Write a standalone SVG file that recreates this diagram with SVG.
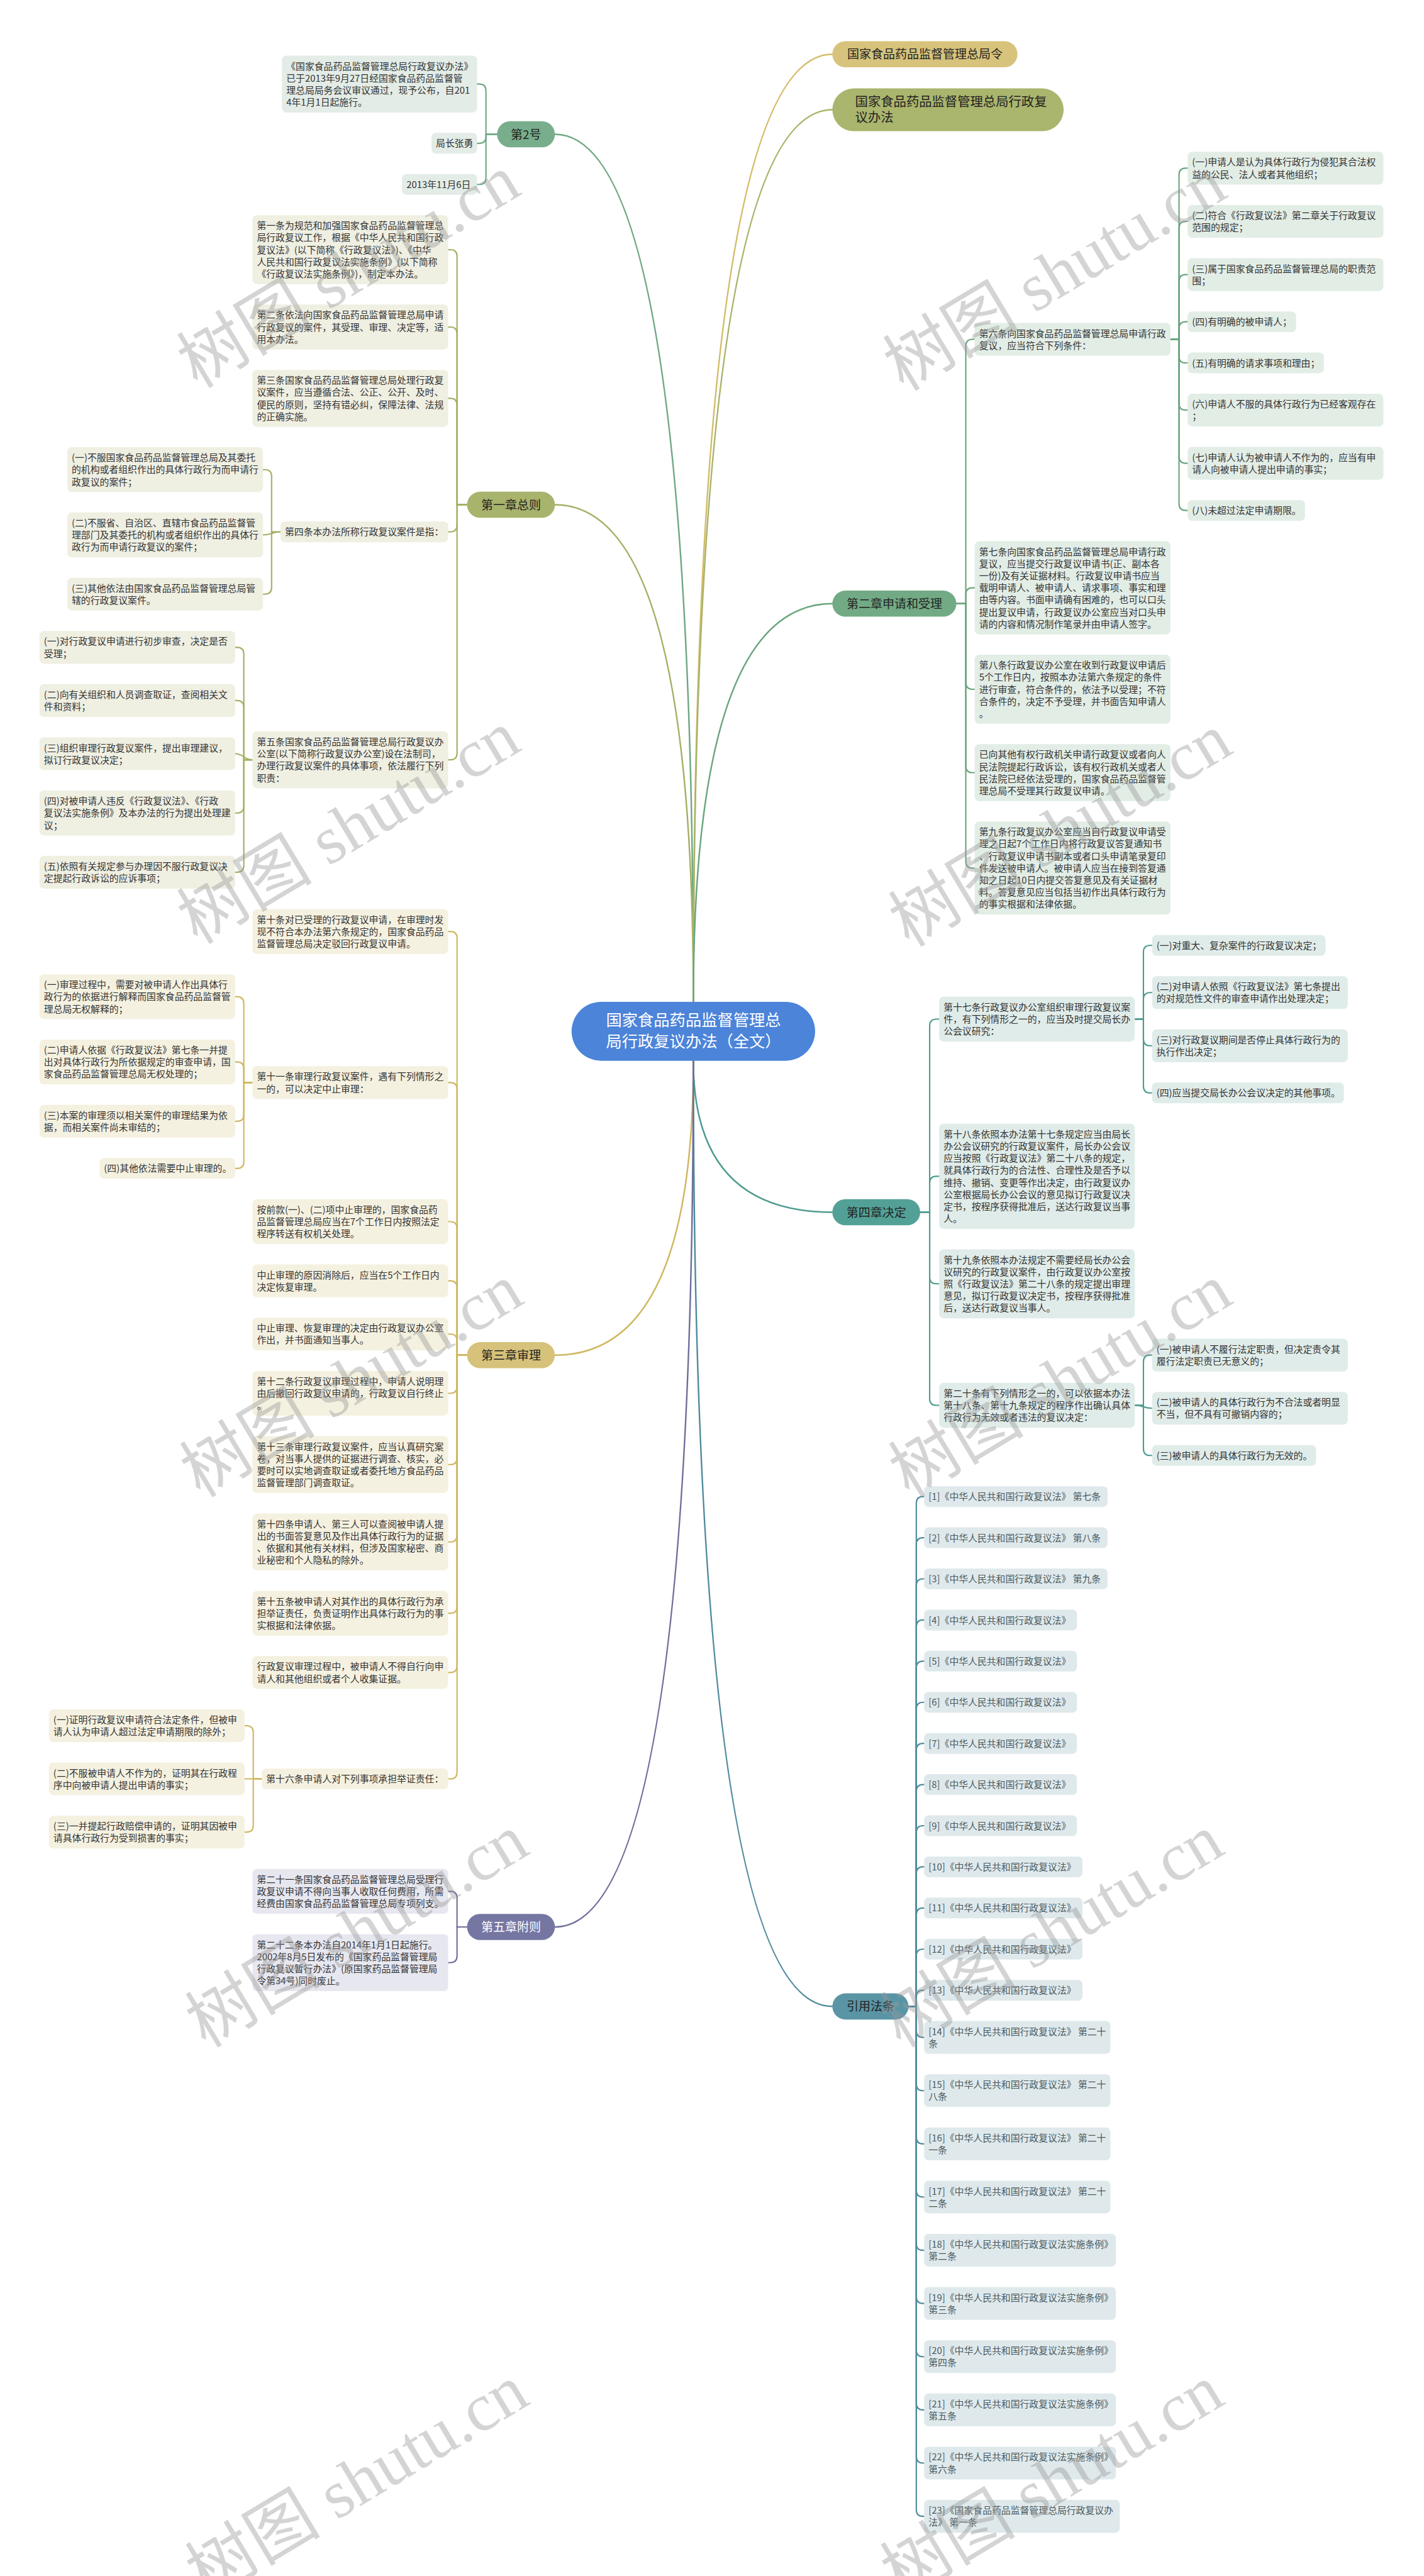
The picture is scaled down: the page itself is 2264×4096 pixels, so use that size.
<svg xmlns="http://www.w3.org/2000/svg" width="2264" height="4096" viewBox="0 0 2264 4096">
<style>
.t{font-family:"Noto Sans CJK SC","Noto Sans",sans-serif;font-size:16.8px;fill:#333}
.tr{font-family:"Noto Sans CJK SC","Noto Sans",sans-serif;font-size:16.8px;fill:#4a5a60}
.n1{font-family:"Noto Sans CJK SC","Noto Sans",sans-serif;font-size:21.5px;fill:#222;text-anchor:middle}
.c{fill:none;stroke-width:2.4;stroke-linecap:round}
.c1{fill:none;stroke-width:2.8;stroke-linecap:round}
.b2{fill:#e3ece6}.b1{fill:#efefe2}.bR{fill:#e2ede6}.b3{fill:#f5f1e0}.b4{fill:#e0ece9}.by{fill:#dfe9ec}.b5{fill:#e7e7f0}
.wm{font-family:"Liberation Serif","Noto Sans CJK SC",serif;font-size:122px;fill:#999;fill-opacity:.42}
</style>
<rect width="2264" height="4096" fill="#fff"/>
<g transform="scale(0.884)">
<g id="connectors">
<path class="c1" stroke="#6fa783" d="M1247 1802Q1247 241.5 998 241.5"/>
<path class="c1" stroke="#a4af63" d="M1247 1802Q1247 907.9 998 907.9"/>
<path class="c1" stroke="#d3bb66" d="M1247 1802Q1247 97.5 1497 97.5"/>
<path class="c1" stroke="#a9b46a" d="M1247 1802Q1247 197.5 1497 197.5"/>
<path class="c1" stroke="#6aa57e" d="M1247 1802Q1247 1085.8 1497 1085.8"/>
<path class="c1" stroke="#cfb75f" d="M1247 1908Q1247 2437.6 998 2437.6"/>
<path class="c1" stroke="#4f9b90" d="M1247 1908Q1247 2180.4 1497 2180.4"/>
<path class="c1" stroke="#4f8b9d" d="M1247 1908Q1247 3609 1497 3609"/>
<path class="c1" stroke="#6e6e9a" d="M1247 1908Q1247 3466.1 998 3466.1"/>
<g stroke="#6fa783">
<path class="c" d="M894 241.5H874V163.2Q874 151.2 862 151.2H858"/>
<path class="c" d="M894 241.5H874V245.75Q874 257.75 862 257.75H858"/>
<path class="c" d="M894 241.5H874V319.75Q874 331.75 862 331.75H858"/>
</g>
<g stroke="#a4af63">
<path class="c" d="M840 907.9H822V461.15Q822 449.15 810 449.15H806"/>
<path class="c" d="M840 907.9H822V600.25Q822 588.25 810 588.25H806"/>
<path class="c" d="M840 907.9H822V728.5Q822 716.5 810 716.5H806"/>
<path class="c" d="M840 907.9H822V944.7Q822 956.7 810 956.7H806"/>
<path class="c" d="M840 907.9H822V1354.65Q822 1366.65 810 1366.65H806"/>
<path class="c" d="M504.4 956.7H488.5V856.75Q488.5 844.75 476.5 844.75H473"/>
<path class="c" d="M504.4 956.7C488.5 956.7 488.5 962.15 473 962.15"/>
<path class="c" d="M504.4 956.7H488.5V1056.7Q488.5 1068.7 476.5 1068.7H473"/>
<path class="c" d="M454 1366.65H438.5V1176.4Q438.5 1164.4 426.5 1164.4H423"/>
<path class="c" d="M454 1366.65H438.5V1272.1Q438.5 1260.1 426.5 1260.1H423"/>
<path class="c" d="M454 1366.65C438.5 1366.65 438.5 1355.8 423 1355.8"/>
<path class="c" d="M454 1366.65H438.5V1450.35Q438.5 1462.35 426.5 1462.35H423"/>
<path class="c" d="M454 1366.65H438.5V1556.9Q438.5 1568.9 426.5 1568.9H423"/>
</g>
<g stroke="#cfb75f">
<path class="c" d="M840 2437.6H822V1687.45Q822 1675.45 810 1675.45H806"/>
<path class="c" d="M840 2437.6H822V1959.25Q822 1947.25 810 1947.25H806"/>
<path class="c" d="M840 2437.6H822V2209.35Q822 2197.35 810 2197.35H806"/>
<path class="c" d="M840 2437.6H822V2315.9Q822 2303.9 810 2303.9H806"/>
<path class="c" d="M840 2437.6H822V2411.6Q822 2399.6 810 2399.6H806"/>
<path class="c" d="M840 2437.6H822V2494.15Q822 2506.15 810 2506.15H806"/>
<path class="c" d="M840 2437.6H822V2622.4Q822 2634.4 810 2634.4H806"/>
<path class="c" d="M840 2437.6H822V2761.5Q822 2773.5 810 2773.5H806"/>
<path class="c" d="M840 2437.6H822V2889.75Q822 2901.75 810 2901.75H806"/>
<path class="c" d="M840 2437.6H822V2996.3Q822 3008.3 810 3008.3H806"/>
<path class="c" d="M840 2437.6H822V3187.7Q822 3199.7 810 3199.7H806"/>
<path class="c" d="M454 1947.25H438.5V1804.85Q438.5 1792.85 426.5 1792.85H423"/>
<path class="c" d="M454 1947.25H438.5V1922.25Q438.5 1910.25 426.5 1910.25H423"/>
<path class="c" d="M454 1947.25H438.5V2004.8Q438.5 2016.8 426.5 2016.8H423"/>
<path class="c" d="M454 1947.25H438.5V2089.65Q438.5 2101.65 426.5 2101.65H423"/>
<path class="c" d="M470.8 3199.7H455.5V3116Q455.5 3104 443.5 3104H440"/>
<path class="c" d="M470.8 3199.7H440"/>
<path class="c" d="M470.8 3199.7H455.5V3283.4Q455.5 3295.4 443.5 3295.4H440"/>
</g>
<g stroke="#6e6e9a">
<path class="c" d="M840 3466.1H822V3413.95Q822 3401.95 810 3401.95H806"/>
<path class="c" d="M840 3466.1H822V3518.2Q822 3530.2 810 3530.2H806"/>
</g>
<g stroke="#6aa57e">
<path class="c" d="M1720 1085.8H1737V622.3Q1737 610.3 1749 610.3H1753"/>
<path class="c" d="M1720 1085.8H1737V1069.25Q1737 1057.25 1749 1057.25H1753"/>
<path class="c" d="M1720 1085.8H1737V1227.75Q1737 1239.75 1749 1239.75H1753"/>
<path class="c" d="M1720 1085.8H1737V1377.7Q1737 1389.7 1749 1389.7H1753"/>
<path class="c" d="M1720 1085.8H1737V1549.35Q1737 1561.35 1749 1561.35H1753"/>
<path class="c" d="M2105 610.3H2120.5V314.5Q2120.5 302.5 2132.5 302.5H2136"/>
<path class="c" d="M2105 610.3H2120.5V410.2Q2120.5 398.2 2132.5 398.2H2136"/>
<path class="c" d="M2105 610.3H2120.5V505.9Q2120.5 493.9 2132.5 493.9H2136"/>
<path class="c" d="M2105 610.3H2120.5V590.75Q2120.5 578.75 2132.5 578.75H2136"/>
<path class="c" d="M2105 610.3H2120.5V640.75Q2120.5 652.75 2132.5 652.75H2136"/>
<path class="c" d="M2105 610.3H2120.5V725.6Q2120.5 737.6 2132.5 737.6H2136"/>
<path class="c" d="M2105 610.3H2120.5V821.3Q2120.5 833.3 2132.5 833.3H2136"/>
<path class="c" d="M2105 610.3H2120.5V906.15Q2120.5 918.15 2132.5 918.15H2136"/>
</g>
<g stroke="#4f9b90">
<path class="c" d="M1655 2180.4H1672V1845.15Q1672 1833.15 1684 1833.15H1689"/>
<path class="c" d="M1655 2180.4H1672V2127.8Q1672 2115.8 1684 2115.8H1689"/>
<path class="c" d="M1655 2180.4H1672V2297.15Q1672 2309.15 1684 2309.15H1689"/>
<path class="c" d="M1655 2180.4H1672V2515.7Q1672 2527.7 1684 2527.7H1689"/>
<path class="c" d="M2041 1833.15H2056.5V1712.45Q2056.5 1700.45 2068.5 1700.45H2072"/>
<path class="c" d="M2041 1833.15H2056.5V1797.3Q2056.5 1785.3 2068.5 1785.3H2072"/>
<path class="c" d="M2041 1833.15H2056.5V1869Q2056.5 1881 2068.5 1881H2072"/>
<path class="c" d="M2041 1833.15H2056.5V1953.85Q2056.5 1965.85 2068.5 1965.85H2072"/>
<path class="c" d="M2041 2527.7H2056.5V2449.4Q2056.5 2437.4 2068.5 2437.4H2072"/>
<path class="c" d="M2041 2527.7C2056.5 2527.7 2056.5 2533.1 2072 2533.1"/>
<path class="c" d="M2041 2527.7H2056.5V2605.95Q2056.5 2617.95 2068.5 2617.95H2072"/>
</g>
<g stroke="#4f8b9d">
<path class="c" d="M1634 3609H1648V2703.95Q1648 2691.95 1660 2691.95H1662"/>
<path class="c" d="M1634 3609H1648V2777.95Q1648 2765.95 1660 2765.95H1662"/>
<path class="c" d="M1634 3609H1648V2851.95Q1648 2839.95 1660 2839.95H1662"/>
<path class="c" d="M1634 3609H1648V2925.95Q1648 2913.95 1660 2913.95H1662"/>
<path class="c" d="M1634 3609H1648V2999.95Q1648 2987.95 1660 2987.95H1662"/>
<path class="c" d="M1634 3609H1648V3073.95Q1648 3061.95 1660 3061.95H1662"/>
<path class="c" d="M1634 3609H1648V3147.95Q1648 3135.95 1660 3135.95H1662"/>
<path class="c" d="M1634 3609H1648V3221.95Q1648 3209.95 1660 3209.95H1662"/>
<path class="c" d="M1634 3609H1648V3295.95Q1648 3283.95 1660 3283.95H1662"/>
<path class="c" d="M1634 3609H1648V3369.95Q1648 3357.95 1660 3357.95H1662"/>
<path class="c" d="M1634 3609H1648V3443.95Q1648 3431.95 1660 3431.95H1662"/>
<path class="c" d="M1634 3609H1648V3517.95Q1648 3505.95 1660 3505.95H1662"/>
<path class="c" d="M1634 3609H1648V3591.95Q1648 3579.95 1660 3579.95H1662"/>
<path class="c" d="M1634 3609H1648V3652.8Q1648 3664.8 1660 3664.8H1662"/>
<path class="c" d="M1634 3609H1648V3748.5Q1648 3760.5 1660 3760.5H1662"/>
<path class="c" d="M1634 3609H1648V3844.2Q1648 3856.2 1660 3856.2H1662"/>
<path class="c" d="M1634 3609H1648V3939.9Q1648 3951.9 1660 3951.9H1662"/>
<path class="c" d="M1634 3609H1648V4035.6Q1648 4047.6 1660 4047.6H1662"/>
<path class="c" d="M1634 3609H1648V4131.3Q1648 4143.3 1660 4143.3H1662"/>
<path class="c" d="M1634 3609H1648V4227Q1648 4239 1660 4239H1662"/>
<path class="c" d="M1634 3609H1648V4322.7Q1648 4334.7 1660 4334.7H1662"/>
<path class="c" d="M1634 3609H1648V4418.4Q1648 4430.4 1660 4430.4H1662"/>
<path class="c" d="M1634 3609H1648V4514.1Q1648 4526.1 1660 4526.1H1662"/>
</g>
</g>

<g id="n-center"><rect x="1028" y="1802" width="438" height="106" rx="53" fill="#4c84d9"/><text x="1090" y="1845.5" style="font-family:'Noto Sans CJK SC',sans-serif;font-size:28.6px;fill:#fff"><tspan x="1090">国家食品药品监督管理总</tspan><tspan x="1090" dy="38">局行政复议办法（全文）</tspan></text></g>

<g id="n-no2"><rect x="894" y="218" width="104" height="47" rx="23.5" fill="#78ae8b"/><text class="n1" x="946" y="249.5">第2号</text></g>
<g id="n-no2-1"><rect class="b2" x="507" y="100" width="351" height="102.4" rx="8"/><text class="t" x="515" y="125"><tspan x="515">《国家食品药品监督管理总局行政复议办法》</tspan><tspan x="515" dy="21.7">已于2013年9月27日经国家食品药品监督管</tspan><tspan x="515" dy="21.7">理总局局务会议审议通过，现予公布，自201</tspan><tspan x="515" dy="21.7">4年1月1日起施行。</tspan></text></g>
<g id="n-no2-2"><rect class="b2" x="776" y="239.1" width="82" height="37.3" rx="8"/><text class="t" x="784" y="264.1">局长张勇</text></g>
<g id="n-no2-3"><rect class="b2" x="723" y="313.1" width="135" height="37.3" rx="8"/><text class="t" x="731" y="338.1">2013年11月6日</text></g>

<g id="n-ch1"><rect x="840" y="884.4" width="158" height="47" rx="23.5" fill="#a8b36c"/><text class="n1" x="919" y="915.9">第一章总则</text></g>
<g id="n-a1"><rect class="b1" x="454" y="387.1" width="352" height="124.1" rx="8"/><text class="t" x="462" y="412.1"><tspan x="462">第一条为规范和加强国家食品药品监督管理总</tspan><tspan x="462" dy="21.7">局行政复议工作，根据《中华人民共和国行政</tspan><tspan x="462" dy="21.7">复议法》(以下简称《行政复议法》)、《中华</tspan><tspan x="462" dy="21.7">人民共和国行政复议法实施条例》(以下简称</tspan><tspan x="462" dy="21.7">《行政复议法实施条例》)，制定本办法。</tspan></text></g>
<g id="n-a2"><rect class="b1" x="454" y="547.9" width="352" height="80.7" rx="8"/><text class="t" x="462" y="572.9"><tspan x="462">第二条依法向国家食品药品监督管理总局申请</tspan><tspan x="462" dy="21.7">行政复议的案件，其受理、审理、决定等，适</tspan><tspan x="462" dy="21.7">用本办法。</tspan></text></g>
<g id="n-a3"><rect class="b1" x="454" y="665.3" width="352" height="102.4" rx="8"/><text class="t" x="462" y="690.3"><tspan x="462">第三条国家食品药品监督管理总局处理行政复</tspan><tspan x="462" dy="21.7">议案件，应当遵循合法、公正、公开、及时、</tspan><tspan x="462" dy="21.7">便民的原则，坚持有错必纠，保障法律、法规</tspan><tspan x="462" dy="21.7">的正确实施。</tspan></text></g>
<g id="n-a4"><rect class="b1" x="504.4" y="938.05" width="301.6" height="37.3" rx="8"/><text class="t" x="512.4" y="963.05">第四条本办法所称行政复议案件是指：</text></g>
<g id="n-a4-1"><rect class="b1" x="121" y="804.4" width="352" height="80.7" rx="8"/><text class="t" x="129" y="829.4"><tspan x="129">(一)不服国家食品药品监督管理总局及其委托</tspan><tspan x="129" dy="21.7">的机构或者组织作出的具体行政行为而申请行</tspan><tspan x="129" dy="21.7">政复议的案件；</tspan></text></g>
<g id="n-a4-2"><rect class="b1" x="121" y="921.8" width="352" height="80.7" rx="8"/><text class="t" x="129" y="946.8"><tspan x="129">(二)不服省、自治区、直辖市食品药品监督管</tspan><tspan x="129" dy="21.7">理部门及其委托的机构或者组织作出的具体行</tspan><tspan x="129" dy="21.7">政行为而申请行政复议的案件；</tspan></text></g>
<g id="n-a4-3"><rect class="b1" x="121" y="1039.2" width="352" height="59" rx="8"/><text class="t" x="129" y="1064.2"><tspan x="129">(三)其他依法由国家食品药品监督管理总局管</tspan><tspan x="129" dy="21.7">辖的行政复议案件。</tspan></text></g>
<g id="n-a5"><rect class="b1" x="454" y="1315.45" width="352" height="102.4" rx="8"/><text class="t" x="462" y="1340.45"><tspan x="462">第五条国家食品药品监督管理总局行政复议办</tspan><tspan x="462" dy="21.7">公室(以下简称行政复议办公室)设在法制司，</tspan><tspan x="462" dy="21.7">办理行政复议案件的具体事项，依法履行下列</tspan><tspan x="462" dy="21.7">职责：</tspan></text></g>
<g id="n-a5-1"><rect class="b1" x="71" y="1134.9" width="352" height="59" rx="8"/><text class="t" x="79" y="1159.9"><tspan x="79">(一)对行政复议申请进行初步审查，决定是否</tspan><tspan x="79" dy="21.7">受理；</tspan></text></g>
<g id="n-a5-2"><rect class="b1" x="71" y="1230.6" width="352" height="59" rx="8"/><text class="t" x="79" y="1255.6"><tspan x="79">(二)向有关组织和人员调查取证，查阅相关文</tspan><tspan x="79" dy="21.7">件和资料；</tspan></text></g>
<g id="n-a5-3"><rect class="b1" x="71" y="1326.3" width="352" height="59" rx="8"/><text class="t" x="79" y="1351.3"><tspan x="79">(三)组织审理行政复议案件，提出审理建议，</tspan><tspan x="79" dy="21.7">拟订行政复议决定；</tspan></text></g>
<g id="n-a5-4"><rect class="b1" x="71" y="1422" width="352" height="80.7" rx="8"/><text class="t" x="79" y="1447"><tspan x="79">(四)对被申请人违反《行政复议法》、《行政</tspan><tspan x="79" dy="21.7">复议法实施条例》及本办法的行为提出处理建</tspan><tspan x="79" dy="21.7">议；</tspan></text></g>
<g id="n-a5-5"><rect class="b1" x="71" y="1539.4" width="352" height="59" rx="8"/><text class="t" x="79" y="1564.4"><tspan x="79">(五)依照有关规定参与办理因不服行政复议决</tspan><tspan x="79" dy="21.7">定提起行政诉讼的应诉事项；</tspan></text></g>

<g id="n-ch3"><rect x="840" y="2414.1" width="158" height="47" rx="23.5" fill="#d6c27a"/><text class="n1" x="919" y="2445.6">第三章审理</text></g>
<g id="n-c10"><rect class="b3" x="454" y="1635.1" width="352" height="80.7" rx="8"/><text class="t" x="462" y="1660.1"><tspan x="462">第十条对已受理的行政复议申请，在审理时发</tspan><tspan x="462" dy="21.7">现不符合本办法第六条规定的，国家食品药品</tspan><tspan x="462" dy="21.7">监督管理总局决定驳回行政复议申请。</tspan></text></g>
<g id="n-c11"><rect class="b3" x="454" y="1917.75" width="352" height="59" rx="8"/><text class="t" x="462" y="1942.75"><tspan x="462">第十一条审理行政复议案件，遇有下列情形之</tspan><tspan x="462" dy="21.7">一的，可以决定中止审理：</tspan></text></g>
<g id="n-c11-1"><rect class="b3" x="71" y="1752.5" width="352" height="80.7" rx="8"/><text class="t" x="79" y="1777.5"><tspan x="79">(一)审理过程中，需要对被申请人作出具体行</tspan><tspan x="79" dy="21.7">政行为的依据进行解释而国家食品药品监督管</tspan><tspan x="79" dy="21.7">理总局无权解释的；</tspan></text></g>
<g id="n-c11-2"><rect class="b3" x="71" y="1869.9" width="352" height="80.7" rx="8"/><text class="t" x="79" y="1894.9"><tspan x="79">(二)申请人依据《行政复议法》第七条一并提</tspan><tspan x="79" dy="21.7">出对具体行政行为所依据规定的审查申请，国</tspan><tspan x="79" dy="21.7">家食品药品监督管理总局无权处理的；</tspan></text></g>
<g id="n-c11-3"><rect class="b3" x="71" y="1987.3" width="352" height="59" rx="8"/><text class="t" x="79" y="2012.3"><tspan x="79">(三)本案的审理须以相关案件的审理结果为依</tspan><tspan x="79" dy="21.7">据，而相关案件尚未审结的；</tspan></text></g>
<g id="n-c11-4"><rect class="b3" x="179" y="2083" width="244" height="37.3" rx="8"/><text class="t" x="187" y="2108">(四)其他依法需要中止审理的。</text></g>
<g id="n-c-a"><rect class="b3" x="454" y="2157" width="352" height="80.7" rx="8"/><text class="t" x="462" y="2182"><tspan x="462">按前款(一)、(二)项中止审理的，国家食品药</tspan><tspan x="462" dy="21.7">品监督管理总局应当在7个工作日内按照法定</tspan><tspan x="462" dy="21.7">程序转送有权机关处理。</tspan></text></g>
<g id="n-c-b"><rect class="b3" x="454" y="2274.4" width="352" height="59" rx="8"/><text class="t" x="462" y="2299.4"><tspan x="462">中止审理的原因消除后，应当在5个工作日内</tspan><tspan x="462" dy="21.7">决定恢复审理。</tspan></text></g>
<g id="n-c-c"><rect class="b3" x="454" y="2370.1" width="352" height="59" rx="8"/><text class="t" x="462" y="2395.1"><tspan x="462">中止审理、恢复审理的决定由行政复议办公室</tspan><tspan x="462" dy="21.7">作出，并书面通知当事人。</tspan></text></g>
<g id="n-c12"><rect class="b3" x="454" y="2465.8" width="352" height="80.7" rx="8"/><text class="t" x="462" y="2490.8"><tspan x="462">第十二条行政复议审理过程中，申请人说明理</tspan><tspan x="462" dy="21.7">由后撤回行政复议申请的，行政复议自行终止</tspan><tspan x="462" dy="21.7">。</tspan></text></g>
<g id="n-c13"><rect class="b3" x="454" y="2583.2" width="352" height="102.4" rx="8"/><text class="t" x="462" y="2608.2"><tspan x="462">第十三条审理行政复议案件，应当认真研究案</tspan><tspan x="462" dy="21.7">卷，对当事人提供的证据进行调查、核实，必</tspan><tspan x="462" dy="21.7">要时可以实地调查取证或者委托地方食品药品</tspan><tspan x="462" dy="21.7">监督管理部门调查取证。</tspan></text></g>
<g id="n-c14"><rect class="b3" x="454" y="2722.3" width="352" height="102.4" rx="8"/><text class="t" x="462" y="2747.3"><tspan x="462">第十四条申请人、第三人可以查阅被申请人提</tspan><tspan x="462" dy="21.7">出的书面答复意见及作出具体行政行为的证据</tspan><tspan x="462" dy="21.7">、依据和其他有关材料，但涉及国家秘密、商</tspan><tspan x="462" dy="21.7">业秘密和个人隐私的除外。</tspan></text></g>
<g id="n-c15"><rect class="b3" x="454" y="2861.4" width="352" height="80.7" rx="8"/><text class="t" x="462" y="2886.4"><tspan x="462">第十五条被申请人对其作出的具体行政行为承</tspan><tspan x="462" dy="21.7">担举证责任，负责证明作出具体行政行为的事</tspan><tspan x="462" dy="21.7">实根据和法律依据。</tspan></text></g>
<g id="n-c-d"><rect class="b3" x="454" y="2978.8" width="352" height="59" rx="8"/><text class="t" x="462" y="3003.8"><tspan x="462">行政复议审理过程中，被申请人不得自行向申</tspan><tspan x="462" dy="21.7">请人和其他组织或者个人收集证据。</tspan></text></g>
<g id="n-c16"><rect class="b3" x="470.8" y="3181.05" width="335.2" height="37.3" rx="8"/><text class="t" x="478.8" y="3206.05">第十六条申请人对下列事项承担举证责任：</text></g>
<g id="n-c16-1"><rect class="b3" x="88" y="3074.5" width="352" height="59" rx="8"/><text class="t" x="96" y="3099.5"><tspan x="96">(一)证明行政复议申请符合法定条件，但被申</tspan><tspan x="96" dy="21.7">请人认为申请人超过法定申请期限的除外；</tspan></text></g>
<g id="n-c16-2"><rect class="b3" x="88" y="3170.2" width="352" height="59" rx="8"/><text class="t" x="96" y="3195.2"><tspan x="96">(二)不服被申请人不作为的，证明其在行政程</tspan><tspan x="96" dy="21.7">序中向被申请人提出申请的事实；</tspan></text></g>
<g id="n-c16-3"><rect class="b3" x="88" y="3265.9" width="352" height="59" rx="8"/><text class="t" x="96" y="3290.9"><tspan x="96">(三)一并提起行政赔偿申请的，证明其因被申</tspan><tspan x="96" dy="21.7">请具体行政行为受到损害的事实；</tspan></text></g>

<g id="n-ch5"><rect x="840" y="3442.6" width="158" height="47" rx="23.5" fill="#7676a2"/><text class="n1" x="919" y="3474.1" style="fill:#fff">第五章附则</text></g>
<g id="n-e21"><rect class="b5" x="454" y="3361.6" width="352" height="80.7" rx="8"/><text class="t" x="462" y="3386.6"><tspan x="462">第二十一条国家食品药品监督管理总局受理行</tspan><tspan x="462" dy="21.7">政复议申请不得向当事人收取任何费用，所需</tspan><tspan x="462" dy="21.7">经费由国家食品药品监督管理总局专项列支。</tspan></text></g>
<g id="n-e22"><rect class="b5" x="454" y="3479" width="352" height="102.4" rx="8"/><text class="t" x="462" y="3504"><tspan x="462">第二十二条本办法自2014年1月1日起施行。</tspan><tspan x="462" dy="21.7">2002年8月5日发布的《国家药品监督管理局</tspan><tspan x="462" dy="21.7">行政复议暂行办法》(原国家药品监督管理局</tspan><tspan x="462" dy="21.7">令第34号)同时废止。</tspan></text></g>

<g id="n-order"><rect x="1497" y="74" width="333" height="47" rx="23.5" fill="#d7c37b"/><text class="n1" x="1663.5" y="105.5">国家食品药品监督管理总局令</text></g>
<g id="n-title"><rect x="1497" y="159" width="416" height="77" rx="38.5" fill="#aab56d"/><text x="1538" y="191.7" style="font-family:'Noto Sans CJK SC',sans-serif;font-size:23px;fill:#222"><tspan x="1538">国家食品药品监督管理总局行政复</tspan><tspan x="1538" dy="28">议办法</tspan></text></g>

<g id="n-ch2"><rect x="1497" y="1062.3" width="223" height="47" rx="23.5" fill="#72aa85"/><text class="n1" x="1608.5" y="1093.8">第二章申请和受理</text></g>
<g id="n-b6"><rect class="bR" x="1753" y="580.8" width="352" height="59" rx="8"/><text class="t" x="1761" y="605.8"><tspan x="1761">第六条向国家食品药品监督管理总局申请行政</tspan><tspan x="1761" dy="21.7">复议，应当符合下列条件：</tspan></text></g>
<g id="n-b6-1"><rect class="bR" x="2136" y="273" width="352" height="59" rx="8"/><text class="t" x="2144" y="298"><tspan x="2144">(一)申请人是认为具体行政行为侵犯其合法权</tspan><tspan x="2144" dy="21.7">益的公民、法人或者其他组织；</tspan></text></g>
<g id="n-b6-2"><rect class="bR" x="2136" y="368.7" width="352" height="59" rx="8"/><text class="t" x="2144" y="393.7"><tspan x="2144">(二)符合《行政复议法》第二章关于行政复议</tspan><tspan x="2144" dy="21.7">范围的规定；</tspan></text></g>
<g id="n-b6-3"><rect class="bR" x="2136" y="464.4" width="352" height="59" rx="8"/><text class="t" x="2144" y="489.4"><tspan x="2144">(三)属于国家食品药品监督管理总局的职责范</tspan><tspan x="2144" dy="21.7">围；</tspan></text></g>
<g id="n-b6-4"><rect class="bR" x="2136" y="560.1" width="195" height="37.3" rx="8"/><text class="t" x="2144" y="585.1">(四)有明确的被申请人；</text></g>
<g id="n-b6-5"><rect class="bR" x="2136" y="634.1" width="245" height="37.3" rx="8"/><text class="t" x="2144" y="659.1">(五)有明确的请求事项和理由；</text></g>
<g id="n-b6-6"><rect class="bR" x="2136" y="708.1" width="352" height="59" rx="8"/><text class="t" x="2144" y="733.1"><tspan x="2144">(六)申请人不服的具体行政行为已经客观存在</tspan><tspan x="2144" dy="21.7">；</tspan></text></g>
<g id="n-b6-7"><rect class="bR" x="2136" y="803.8" width="352" height="59" rx="8"/><text class="t" x="2144" y="828.8"><tspan x="2144">(七)申请人认为被申请人不作为的，应当有申</tspan><tspan x="2144" dy="21.7">请人向被申请人提出申请的事实；</tspan></text></g>
<g id="n-b6-8"><rect class="bR" x="2136" y="899.5" width="211" height="37.3" rx="8"/><text class="t" x="2144" y="924.5">(八)未超过法定申请期限。</text></g>
<g id="n-b7"><rect class="bR" x="1753" y="973.5" width="352" height="167.5" rx="8"/><text class="t" x="1761" y="998.5"><tspan x="1761">第七条向国家食品药品监督管理总局申请行政</tspan><tspan x="1761" dy="21.7">复议，应当提交行政复议申请书(正、副本各</tspan><tspan x="1761" dy="21.7">一份)及有关证据材料。行政复议申请书应当</tspan><tspan x="1761" dy="21.7">载明申请人、被申请人、请求事项、事实和理</tspan><tspan x="1761" dy="21.7">由等内容。书面申请确有困难的，也可以口头</tspan><tspan x="1761" dy="21.7">提出复议申请，行政复议办公室应当对口头申</tspan><tspan x="1761" dy="21.7">请的内容和情况制作笔录并由申请人签字。</tspan></text></g>
<g id="n-b8"><rect class="bR" x="1753" y="1177.7" width="352" height="124.1" rx="8"/><text class="t" x="1761" y="1202.7"><tspan x="1761">第八条行政复议办公室在收到行政复议申请后</tspan><tspan x="1761" dy="21.7">5个工作日内，按照本办法第六条规定的条件</tspan><tspan x="1761" dy="21.7">进行审查，符合条件的，依法予以受理；不符</tspan><tspan x="1761" dy="21.7">合条件的，决定不予受理，并书面告知申请人</tspan><tspan x="1761" dy="21.7">。</tspan></text></g>
<g id="n-b8b"><rect class="bR" x="1753" y="1338.5" width="352" height="102.4" rx="8"/><text class="t" x="1761" y="1363.5"><tspan x="1761">已向其他有权行政机关申请行政复议或者向人</tspan><tspan x="1761" dy="21.7">民法院提起行政诉讼，该有权行政机关或者人</tspan><tspan x="1761" dy="21.7">民法院已经依法受理的，国家食品药品监督管</tspan><tspan x="1761" dy="21.7">理总局不受理其行政复议申请。</tspan></text></g>
<g id="n-b9"><rect class="bR" x="1753" y="1477.6" width="352" height="167.5" rx="8"/><text class="t" x="1761" y="1502.6"><tspan x="1761">第九条行政复议办公室应当自行政复议申请受</tspan><tspan x="1761" dy="21.7">理之日起7个工作日内将行政复议答复通知书</tspan><tspan x="1761" dy="21.7">、行政复议申请书副本或者口头申请笔录复印</tspan><tspan x="1761" dy="21.7">件发送被申请人。被申请人应当在接到答复通</tspan><tspan x="1761" dy="21.7">知之日起10日内提交答复意见及有关证据材</tspan><tspan x="1761" dy="21.7">料。答复意见应当包括当初作出具体行政行为</tspan><tspan x="1761" dy="21.7">的事实根据和法律依据。</tspan></text></g>

<g id="n-ch4"><rect x="1497" y="2156.9" width="158" height="47" rx="23.5" fill="#53a196"/><text class="n1" x="1576" y="2188.4">第四章决定</text></g>
<g id="n-d17"><rect class="b4" x="1689" y="1792.8" width="352" height="80.7" rx="8"/><text class="t" x="1697" y="1817.8"><tspan x="1697">第十七条行政复议办公室组织审理行政复议案</tspan><tspan x="1697" dy="21.7">件，有下列情形之一的，应当及时提交局长办</tspan><tspan x="1697" dy="21.7">公会议研究：</tspan></text></g>
<g id="n-d17-1"><rect class="b4" x="2072" y="1681.8" width="312" height="37.3" rx="8"/><text class="t" x="2080" y="1706.8">(一)对重大、复杂案件的行政复议决定；</text></g>
<g id="n-d17-2"><rect class="b4" x="2072" y="1755.8" width="352" height="59" rx="8"/><text class="t" x="2080" y="1780.8"><tspan x="2080">(二)对申请人依照《行政复议法》第七条提出</tspan><tspan x="2080" dy="21.7">的对规范性文件的审查申请作出处理决定；</tspan></text></g>
<g id="n-d17-3"><rect class="b4" x="2072" y="1851.5" width="352" height="59" rx="8"/><text class="t" x="2080" y="1876.5"><tspan x="2080">(三)对行政复议期间是否停止具体行政行为的</tspan><tspan x="2080" dy="21.7">执行作出决定；</tspan></text></g>
<g id="n-d17-4"><rect class="b4" x="2072" y="1947.2" width="345" height="37.3" rx="8"/><text class="t" x="2080" y="1972.2">(四)应当提交局长办公会议决定的其他事项。</text></g>
<g id="n-d18"><rect class="b4" x="1689" y="2021.2" width="352" height="189.2" rx="8"/><text class="t" x="1697" y="2046.2"><tspan x="1697">第十八条依照本办法第十七条规定应当由局长</tspan><tspan x="1697" dy="21.7">办公会议研究的行政复议案件，局长办公会议</tspan><tspan x="1697" dy="21.7">应当按照《行政复议法》第二十八条的规定，</tspan><tspan x="1697" dy="21.7">就具体行政行为的合法性、合理性及是否予以</tspan><tspan x="1697" dy="21.7">维持、撤销、变更等作出决定，由行政复议办</tspan><tspan x="1697" dy="21.7">公室根据局长办公会议的意见拟订行政复议决</tspan><tspan x="1697" dy="21.7">定书，按程序获得批准后，送达行政复议当事</tspan><tspan x="1697" dy="21.7">人。</tspan></text></g>
<g id="n-d19"><rect class="b4" x="1689" y="2247.1" width="352" height="124.1" rx="8"/><text class="t" x="1697" y="2272.1"><tspan x="1697">第十九条依照本办法规定不需要经局长办公会</tspan><tspan x="1697" dy="21.7">议研究的行政复议案件，由行政复议办公室按</tspan><tspan x="1697" dy="21.7">照《行政复议法》第二十八条的规定提出审理</tspan><tspan x="1697" dy="21.7">意见，拟订行政复议决定书，按程序获得批准</tspan><tspan x="1697" dy="21.7">后，送达行政复议当事人。</tspan></text></g>
<g id="n-d20"><rect class="b4" x="1689" y="2487.35" width="352" height="80.7" rx="8"/><text class="t" x="1697" y="2512.35"><tspan x="1697">第二十条有下列情形之一的，可以依据本办法</tspan><tspan x="1697" dy="21.7">第十八条、第十九条规定的程序作出确认具体</tspan><tspan x="1697" dy="21.7">行政行为无效或者违法的复议决定：</tspan></text></g>
<g id="n-d20-1"><rect class="b4" x="2072" y="2407.9" width="352" height="59" rx="8"/><text class="t" x="2080" y="2432.9"><tspan x="2080">(一)被申请人不履行法定职责，但决定责令其</tspan><tspan x="2080" dy="21.7">履行法定职责已无意义的；</tspan></text></g>
<g id="n-d20-2"><rect class="b4" x="2072" y="2503.6" width="352" height="59" rx="8"/><text class="t" x="2080" y="2528.6"><tspan x="2080">(二)被申请人的具体行政行为不合法或者明显</tspan><tspan x="2080" dy="21.7">不当，但不具有可撤销内容的；</tspan></text></g>
<g id="n-d20-3"><rect class="b4" x="2072" y="2599.3" width="295" height="37.3" rx="8"/><text class="t" x="2080" y="2624.3">(三)被申请人的具体行政行为无效的。</text></g>

<g id="n-ref"><rect x="1497" y="3585.5" width="137" height="47" rx="23.5" fill="#5a95a5"/><text class="n1" x="1565.5" y="3617">引用法条</text></g>
<g id="n-r1"><rect class="by" x="1662" y="2673.3" width="330" height="37.3" rx="8"/><text class="tr" x="1670" y="2698.3">[1]《中华人民共和国行政复议法》 第七条</text></g>
<g id="n-r2"><rect class="by" x="1662" y="2747.3" width="330" height="37.3" rx="8"/><text class="tr" x="1670" y="2772.3">[2]《中华人民共和国行政复议法》 第八条</text></g>
<g id="n-r3"><rect class="by" x="1662" y="2821.3" width="330" height="37.3" rx="8"/><text class="tr" x="1670" y="2846.3">[3]《中华人民共和国行政复议法》 第九条</text></g>
<g id="n-r4"><rect class="by" x="1662" y="2895.3" width="275" height="37.3" rx="8"/><text class="tr" x="1670" y="2920.3">[4]《中华人民共和国行政复议法》</text></g>
<g id="n-r5"><rect class="by" x="1662" y="2969.3" width="275" height="37.3" rx="8"/><text class="tr" x="1670" y="2994.3">[5]《中华人民共和国行政复议法》</text></g>
<g id="n-r6"><rect class="by" x="1662" y="3043.3" width="275" height="37.3" rx="8"/><text class="tr" x="1670" y="3068.3">[6]《中华人民共和国行政复议法》</text></g>
<g id="n-r7"><rect class="by" x="1662" y="3117.3" width="275" height="37.3" rx="8"/><text class="tr" x="1670" y="3142.3">[7]《中华人民共和国行政复议法》</text></g>
<g id="n-r8"><rect class="by" x="1662" y="3191.3" width="275" height="37.3" rx="8"/><text class="tr" x="1670" y="3216.3">[8]《中华人民共和国行政复议法》</text></g>
<g id="n-r9"><rect class="by" x="1662" y="3265.3" width="275" height="37.3" rx="8"/><text class="tr" x="1670" y="3290.3">[9]《中华人民共和国行政复议法》</text></g>
<g id="n-r10"><rect class="by" x="1662" y="3339.3" width="285" height="37.3" rx="8"/><text class="tr" x="1670" y="3364.3">[10]《中华人民共和国行政复议法》</text></g>
<g id="n-r11"><rect class="by" x="1662" y="3413.3" width="285" height="37.3" rx="8"/><text class="tr" x="1670" y="3438.3">[11]《中华人民共和国行政复议法》</text></g>
<g id="n-r12"><rect class="by" x="1662" y="3487.3" width="285" height="37.3" rx="8"/><text class="tr" x="1670" y="3512.3">[12]《中华人民共和国行政复议法》</text></g>
<g id="n-r13"><rect class="by" x="1662" y="3561.3" width="285" height="37.3" rx="8"/><text class="tr" x="1670" y="3586.3">[13]《中华人民共和国行政复议法》</text></g>
<g id="n-r14"><rect class="by" x="1662" y="3635.3" width="335" height="59" rx="8"/><text class="tr" x="1670" y="3660.3"><tspan x="1670">[14]《中华人民共和国行政复议法》 第二十</tspan><tspan x="1670" dy="21.7">条</tspan></text></g>
<g id="n-r15"><rect class="by" x="1662" y="3731" width="335" height="59" rx="8"/><text class="tr" x="1670" y="3756"><tspan x="1670">[15]《中华人民共和国行政复议法》 第二十</tspan><tspan x="1670" dy="21.7">八条</tspan></text></g>
<g id="n-r16"><rect class="by" x="1662" y="3826.7" width="335" height="59" rx="8"/><text class="tr" x="1670" y="3851.7"><tspan x="1670">[16]《中华人民共和国行政复议法》 第二十</tspan><tspan x="1670" dy="21.7">一条</tspan></text></g>
<g id="n-r17"><rect class="by" x="1662" y="3922.4" width="335" height="59" rx="8"/><text class="tr" x="1670" y="3947.4"><tspan x="1670">[17]《中华人民共和国行政复议法》 第二十</tspan><tspan x="1670" dy="21.7">二条</tspan></text></g>
<g id="n-r18"><rect class="by" x="1662" y="4018.1" width="345" height="59" rx="8"/><text class="tr" x="1670" y="4043.1"><tspan x="1670">[18]《中华人民共和国行政复议法实施条例》</tspan><tspan x="1670" dy="21.7">第二条</tspan></text></g>
<g id="n-r19"><rect class="by" x="1662" y="4113.8" width="345" height="59" rx="8"/><text class="tr" x="1670" y="4138.8"><tspan x="1670">[19]《中华人民共和国行政复议法实施条例》</tspan><tspan x="1670" dy="21.7">第三条</tspan></text></g>
<g id="n-r20"><rect class="by" x="1662" y="4209.5" width="345" height="59" rx="8"/><text class="tr" x="1670" y="4234.5"><tspan x="1670">[20]《中华人民共和国行政复议法实施条例》</tspan><tspan x="1670" dy="21.7">第四条</tspan></text></g>
<g id="n-r21"><rect class="by" x="1662" y="4305.2" width="345" height="59" rx="8"/><text class="tr" x="1670" y="4330.2"><tspan x="1670">[21]《中华人民共和国行政复议法实施条例》</tspan><tspan x="1670" dy="21.7">第五条</tspan></text></g>
<g id="n-r22"><rect class="by" x="1662" y="4400.9" width="345" height="59" rx="8"/><text class="tr" x="1670" y="4425.9"><tspan x="1670">[22]《中华人民共和国行政复议法实施条例》</tspan><tspan x="1670" dy="21.7">第六条</tspan></text></g>
<g id="n-r23"><rect class="by" x="1662" y="4496.6" width="352" height="59" rx="8"/><text class="tr" x="1670" y="4521.6"><tspan x="1670">[23]《国家食品药品监督管理总局行政复议办</tspan><tspan x="1670" dy="21.7">法》 第一条</tspan></text></g>

<g id="watermarks">
<text class="wm" x="355" y="700" transform="rotate(-31 355 700)">树图 shutu.cn</text>
<text class="wm" x="355" y="1700" transform="rotate(-31 355 1700)">树图 shutu.cn</text>
<text class="wm" x="360" y="2695" transform="rotate(-31 360 2695)">树图 shutu.cn</text>
<text class="wm" x="370" y="3685" transform="rotate(-31 370 3685)">树图 shutu.cn</text>
<text class="wm" x="370" y="4675" transform="rotate(-31 370 4675)">树图 shutu.cn</text>
<text class="wm" x="1625" y="705" transform="rotate(-31 1625 705)">树图 shutu.cn</text>
<text class="wm" x="1635" y="1705" transform="rotate(-31 1635 1705)">树图 shutu.cn</text>
<text class="wm" x="1635" y="2695" transform="rotate(-31 1635 2695)">树图 shutu.cn</text>
<text class="wm" x="1620" y="3685" transform="rotate(-31 1620 3685)">树图 shutu.cn</text>
<text class="wm" x="1620" y="4675" transform="rotate(-31 1620 4675)">树图 shutu.cn</text>
</g>
</g>
</svg>
